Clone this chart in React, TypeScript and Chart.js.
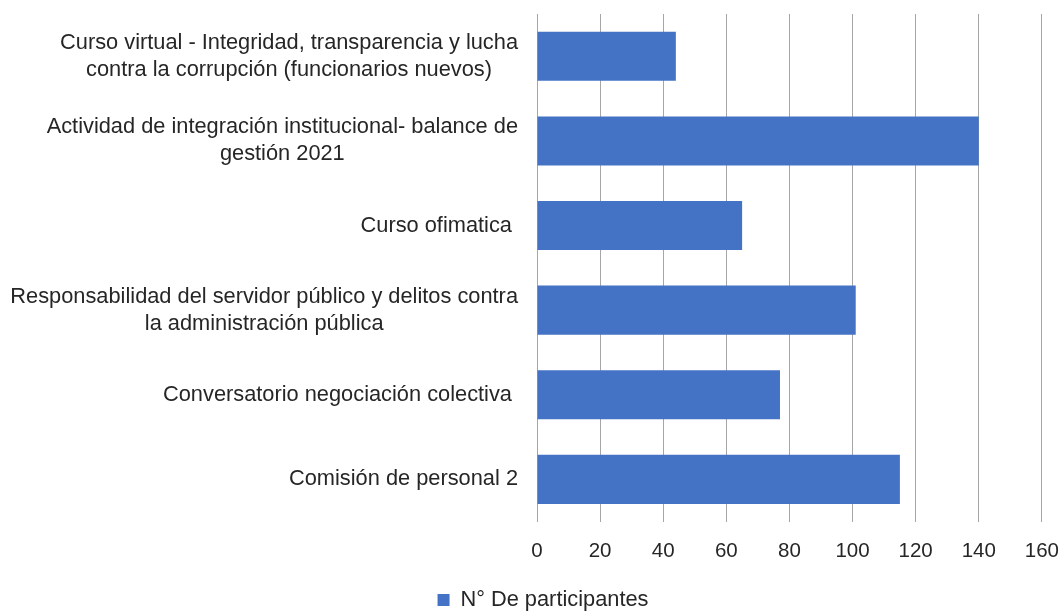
import { useEffect, useRef } from 'react';
import { Chart, registerables } from 'chart.js';

Chart.register(...registerables);

const categories: string[][] = [
  ['Curso virtual - Integridad, transparencia y lucha', 'contra la corrupción (funcionarios nuevos)'],
  ['Actividad de integración institucional- balance de', 'gestión 2021'],
  ['Curso ofimatica '],
  ['Responsabilidad del servidor público y delitos contra', 'la administración pública'],
  ['Conversatorio negociación colectiva '],
  ['Comisión de personal 2'],
];
const seriesLabel = 'N° De participantes';
const participants = [44, 140, 65, 101, 77, 115];
const xMin = 0;
const xMax = 160;
const xStep = 20;

const FONT = '"Liberation Sans", Arial, sans-serif';
const FS = 21.8;
const TICK_FS = 20.5;
const LH = 27;
const TEXT = '#262626';
const LABEL_RIGHT = 518;
const PAD_LEFT = 27;

const catLabelPlugin = {
  id: 'catLabels',
  afterDraw(chart: any) {
    const ctx = chart.ctx;
    const y = chart.scales.y;
    ctx.save();
    ctx.font = `${FS}px ${FONT}`;
    ctx.fillStyle = TEXT;
    ctx.textBaseline = 'middle';
    ctx.textAlign = 'center';
    categories.forEach((lines, i) => {
      const yc = y.getPixelForValue(i);
      const bw = Math.max(...lines.map((l) => ctx.measureText(l).width));
      const cx = LABEL_RIGHT - bw / 2;
      const top = yc - ((lines.length - 1) * LH) / 2;
      lines.forEach((l, j) => ctx.fillText(l, cx, top + j * LH));
    });
    ctx.restore();
  },
};

export default function App() {
  const ref = useRef<HTMLCanvasElement>(null);
  useEffect(() => {
    document.body.style.margin = '0';
    const chart = new Chart(ref.current!, {
      type: 'bar',
      data: {
        labels: categories.map((c) => c.join(' ')),
        datasets: [
          {
            label: seriesLabel,
            data: participants,
            backgroundColor: '#4472C4',
            borderWidth: 0,
            categoryPercentage: 1,
            barPercentage: 0.58,
          },
        ],
      },
      options: {
        indexAxis: 'y',
        animation: false,
        responsive: false,
        maintainAspectRatio: false,
        layout: { padding: { top: 14, right: 0, left: PAD_LEFT, bottom: -10 } },
        plugins: {
          tooltip: { enabled: false },
          legend: {
            position: 'bottom',
            labels: {
              boxWidth: 12,
              boxHeight: 12,
              color: TEXT,
              font: { family: FONT, size: FS },
            },
          },
        },
        scales: {
          x: {
            min: xMin,
            max: xMax,
            ticks: {
              stepSize: xStep,
              color: TEXT,
              padding: 0,
              font: { family: FONT, size: TICK_FS },
            },
            grid: {
              color: '#A6A6A6',
              lineWidth: 1,
              drawTicks: true,
              tickLength: 17,
              tickColor: 'rgba(0,0,0,0)',
            },
            border: { display: false },
            afterFit: (s: any) => {
              s.height = 57.5;
            },
          },
          y: {
            ticks: { display: false },
            grid: { display: false },
            border: { display: false },
            afterFit: (s: any) => {
              s.width = 537 - PAD_LEFT;
            },
          },
        },
      },
      plugins: [catLabelPlugin],
    });
    return () => chart.destroy();
  }, []);
  return (
    <div style={{ position: 'fixed', left: 0, top: 0, width: 1059, height: 611 }}>
      <canvas ref={ref} width={1059} height={611} style={{ width: 1059, height: 611 }} />
    </div>
  );
}
